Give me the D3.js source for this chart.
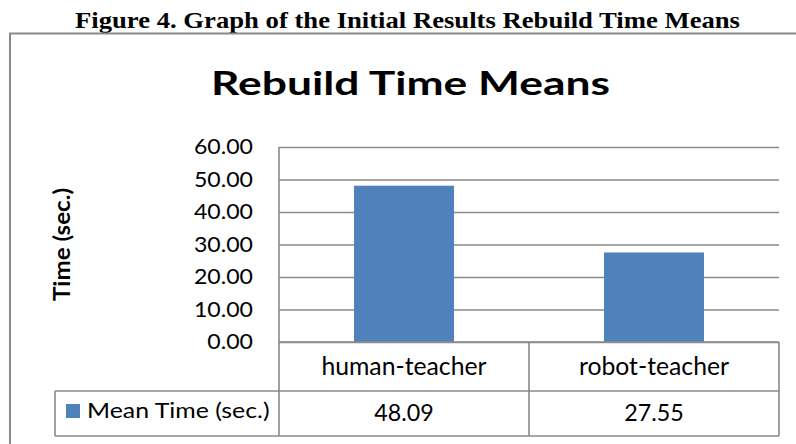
<!DOCTYPE html>
<html>
<head>
<meta charset="utf-8">
<script src="https://cdn.jsdelivr.net/npm/d3@7"></script>
<style>
  body { margin: 0; background: #fff; }
  svg { display: block; }
</style>
</head>
<body>
<svg></svg>
<script>
// data
const categories = ['human-teacher', 'robot-teacher']
const meanTime = [48.09, 27.55]
const seriesName = 'Mean Time (sec.)'
const yTicks = [0, 10, 20, 30, 40, 50, 60]
const figureCaption = 'Figure 4. Graph of the Initial Results Rebuild Time Means'
const chartTitle = 'Rebuild Time Means'
const yTitle = 'Time (sec.)'

const WIDTH = 796,
	HEIGHT = 444,
	plot = { left: 279, right: 779, top: 147, bottom: 342 },
	rows = [342, 391, 436], // table row lines
	legendLeft = 55,
	gridColor = '#8a8a8a',
	barColor = '#4f81bd',
	font = 'Lato, "Open Sans", sans-serif'

const svg = d3.select('svg').attr('width', WIDTH).attr('height', HEIGHT)

// stretch text sideways, the picture is a bit wider than the font
function stretch(sel, k) {
	sel.each(function() {
		const len = this.getComputedTextLength()
		d3.select(this).attr('textLength', len * k).attr('lengthAdjust', 'spacingAndGlyphs')
	})
}

// caption above the frame
svg.append('text')
	.attr('x', 75).attr('y', 28)
	.attr('font-family', '"Liberation Serif", "Times New Roman", serif')
	.attr('font-weight', 'bold').attr('font-size', 23)
	.attr('textLength', 665).attr('lengthAdjust', 'spacingAndGlyphs')
	.text(figureCaption)

// chart frame (runs off the right and bottom)
svg.append('rect')
	.attr('x', 10).attr('y', 33.5)
	.attr('width', 820).attr('height', 440)
	.attr('fill', 'none').attr('stroke', gridColor).attr('stroke-width', 2)

svg.append('text')
	.attr('x', 211).attr('y', 95)
	.attr('font-family', font).attr('font-weight', 'bold').attr('font-size', 32)
	.attr('textLength', 399).attr('lengthAdjust', 'spacingAndGlyphs')
	.text(chartTitle)

const y = d3.scaleLinear().domain([0, 60]).range([plot.bottom, plot.top])
const col = d3.scaleBand().domain(categories).range([plot.left, plot.right])
const x = d3.scaleBand().domain(categories).range([plot.left, plot.right])
	.paddingInner(0.6).paddingOuter(0.3)

// y axis with gridlines
const ya = svg.append('g')
	.attr('transform', `translate(${plot.left},0)`)
	.call(d3.axisLeft(y).tickValues(yTicks).tickFormat(d3.format('.2f'))
		.tickSize(-(plot.right - plot.left)).tickPadding(26))
ya.select('.domain').remove()
ya.selectAll('.tick line').attr('stroke', gridColor).attr('stroke-width', 1.6)
ya.selectAll('.tick text')
	.attr('font-family', font).attr('font-size', 21).attr('fill', '#000')
	.call(stretch, 1.1)

svg.append('text')
	.attr('transform', `translate(70,${(plot.top + plot.bottom) / 2}) rotate(-90)`)
	.attr('text-anchor', 'middle')
	.attr('font-family', font).attr('font-weight', 'bold').attr('font-size', 23)
	.text(yTitle)
	.call(stretch, 1.05)

// bars
svg.append('g').selectAll('rect')
	.data(categories)
	.join('rect')
	.attr('x', d => x(d))
	.attr('width', x.bandwidth())
	.attr('y', (d, i) => y(meanTime[i]))
	.attr('height', (d, i) => y(0) - y(meanTime[i]))
	.attr('fill', barColor)

// data table
const t = svg.append('g').attr('stroke', gridColor).attr('stroke-width', 1.6)
t.append('line').attr('x1', plot.left).attr('x2', plot.left).attr('y1', plot.top).attr('y2', rows[2])
categories.forEach(c => {
	const xr = col(c) + col.bandwidth()
	t.append('line').attr('x1', xr).attr('x2', xr).attr('y1', rows[0]).attr('y2', rows[2])
})
t.append('line').attr('x1', plot.left).attr('x2', plot.right).attr('y1', rows[0]).attr('y2', rows[0])
t.append('line').attr('x1', legendLeft).attr('x2', plot.right).attr('y1', rows[1]).attr('y2', rows[1])
t.append('line').attr('x1', legendLeft).attr('x2', plot.right).attr('y1', rows[2]).attr('y2', rows[2])
t.append('line').attr('x1', legendLeft).attr('x2', legendLeft).attr('y1', rows[1]).attr('y2', rows[2])

svg.append('g').selectAll('text')
	.data(categories)
	.join('text')
	.attr('x', d => col(d) + col.bandwidth() / 2)
	.attr('y', 375)
	.attr('text-anchor', 'middle')
	.attr('font-family', font).attr('font-size', 25)
	.text(d => d)
	.call(stretch, 0.99)

svg.append('g').selectAll('text')
	.data(categories)
	.join('text')
	.attr('x', d => col(d) + col.bandwidth() / 2)
	.attr('y', 421)
	.attr('text-anchor', 'middle')
	.attr('font-family', font).attr('font-size', 24)
	.text((d, i) => d3.format('.2f')(meanTime[i]))
	.call(stretch, 0.97)

svg.append('rect')
	.attr('x', 66).attr('y', 404)
	.attr('width', 14).attr('height', 14)
	.attr('fill', barColor)

svg.append('text')
	.attr('x', 87).attr('y', 418)
	.attr('font-family', font).attr('font-size', 22)
	.text(seriesName)
	.call(stretch, 1.13)
</script>
</body>
</html>
